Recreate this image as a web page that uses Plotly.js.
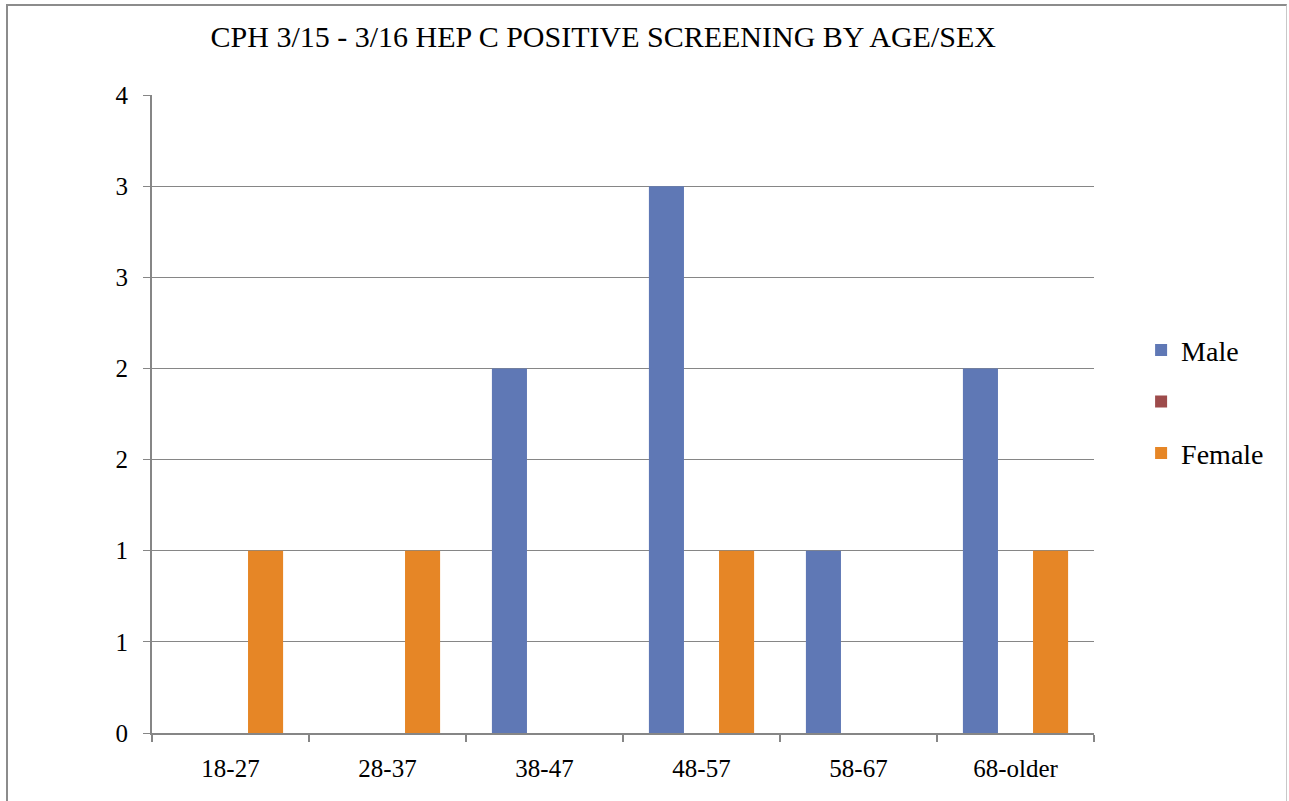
<!DOCTYPE html>
<html>
<head>
<meta charset="utf-8">
<script src="https://cdn.plot.ly/plotly-3.0.1.min.js"></script>
<style>
html,body{margin:0;padding:0;background:#fff;}
#frame{position:absolute;left:6px;top:4px;width:1281px;height:800px;border-left:2px solid #8c8c8c;border-top:2px solid #8c8c8c;border-right:1px solid #c8c8c8;box-sizing:border-box;pointer-events:none;z-index:10;}
#chart{width:1289px;height:801px;}
</style>
</head>
<body>
<div id="chart"></div>
<div id="frame"></div>
<script>
const chartTitle = "CPH 3/15 - 3/16 HEP C POSITIVE SCREENING BY AGE/SEX";
const categories = ["18-27", "28-37", "38-47", "48-57", "58-67", "68-older"];
const maleValues = [null, null, 2, 3, 1, 2];
const blankValues = [null, null, null, null, null, null];
const femaleValues = [1, 1, null, 1, null, 1];
const seriesNames = ["Male", " ", "Female"];
const yTickVals = [0, 0.5, 1, 1.5, 2, 2.5, 3, 3.5];
const yTickText = ["0", "1", "1", "2", "2", "3", "3", "4"];

const font = "Liberation Serif, Times New Roman, serif";
const traces = [
  {type: "bar", name: seriesNames[0], legendgroup: "g0", x: categories, y: maleValues, marker: {color: "#5f78b5"}},
  {type: "bar", name: seriesNames[1], legendgroup: "g1", x: categories, y: blankValues, marker: {color: "#9d4b4b"}},
  {type: "bar", name: seriesNames[2], legendgroup: "g2", x: categories, y: femaleValues, marker: {color: "#e68626"}}
];
const layout = {
  width: 1289, height: 801,
  margin: {l: 152, r: 195, t: 95, b: 68},
  paper_bgcolor: "#fff", plot_bgcolor: "#fff",
  font: {family: font, size: 25, color: "#000"},
  title: {text: chartTitle, font: {family: font, size: 30, color: "#000"}, x: 0.468, xanchor: "center", y: 0.954, yanchor: "middle"},
  barmode: "group", bargap: 0.33, bargroupgap: 0,
  xaxis: {type: "category", tickson: "boundaries", ticks: "outside", ticklen: 7, tickcolor: "#868686", tickwidth: 2, showline: true, linecolor: "#868686", linewidth: 2, showgrid: false, tickfont: {size: 25}, ticklabelstandoff: 12},
  yaxis: {range: [0, 3.5], tickvals: yTickVals, ticktext: yTickText, ticks: "outside", ticklen: 7, tickcolor: "#868686", showline: true, linecolor: "#868686", linewidth: 2, showgrid: true, gridcolor: "#868686", gridwidth: 1, zeroline: false, tickfont: {size: 25}, ticklabelstandoff: 10},
  legend: {x: 1.05, xanchor: "left", y: 0.519, yanchor: "middle", font: {size: 28}, tracegroupgap: 12, traceorder: "grouped"},
  showlegend: true
};
Plotly.newPlot("chart", traces, layout, {staticPlot: true, displayModeBar: false});
</script>
</body>
</html>
